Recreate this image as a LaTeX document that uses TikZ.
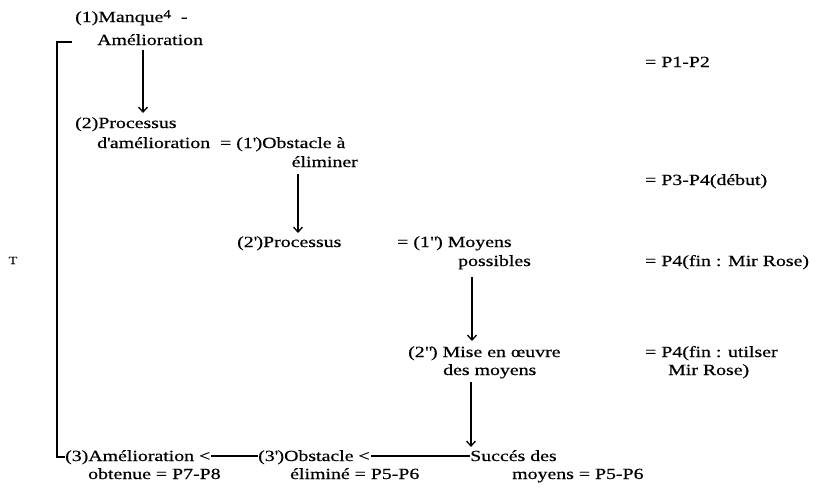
\documentclass[tikz,border=0pt]{standalone}
\usepackage{fontspec}
\setmainfont[FakeStretch=1.28,FakeBold=0.5]{Liberation Serif}
\usetikzlibrary{arrows.meta}
\newcommand{\sq}{\textquotesingle}
\newcommand{\dq}{\textquotedbl}
\begin{document}
\begin{tikzpicture}[x=1pt,y=-1pt,
  txt/.style={anchor=base west,inner sep=0pt,font=\fontsize{15.5}{18}\selectfont},
  txtr/.style={anchor=base east,inner sep=0pt,font=\fontsize{15.5}{18}\selectfont},
  arr/.style={line width=1.3pt,-{Straight Barb[length=5pt,width=9pt,line width=1.3pt]}},
  ln/.style={line width=1.2pt}]
\useasboundingbox (0,0) rectangle (821,488);
% left column
\node[txt] (m1) at (75,22) {(1)Manque\raisebox{4pt}{\fontsize{12}{12}\selectfont 4}\ \ -};
\node[txt] (m2) at (97,45) {Amélioration};
\node[txt] (p2a) at (75,128) {(2)Processus};
\node[txt] (p2b) at (97,148) {d\sq amélioration \ = (1\sq)Obstacle à};
\node[txtr] (elim) at (358,167) {éliminer};
\node[txt] (p2p) at (237,247) {(2\sq)Processus};
\node[txt] (moy) at (397,247) {= (1\dq) Moyens};
\node[txt] (poss) at (458,266) {possibles};
\node[txt] (mise) at (408,357) {(2\dq) Mise en œuvre};
\node[txt] (desm) at (443,375) {des moyens};
% bottom
\node[txt] (am3) at (65,461) {(3)Amélioration <};
\node[txt] (ob3) at (258,461) {(3\sq)Obstacle <};
\node[txt] (suc) at (470,461) {Succés des};
\node[txt] (ob3b) at (88,479) {obtenue = P7-P8};
\node[txt] (el3b) at (290,479) {éliminé = P5-P6};
\node[txt] (moyb) at (512,479) {moyens = P5-P6};
% right column
\node[txt] (r1) at (645,67) {= P1-P2};
\node[txt] (r2) at (645,185) {= P3-P4(début)};
\node[txt] (r3) at (645,266) {= P4(fin : Mir Rose)};
\node[txt] (r4) at (645,357) {= P4(fin : utilser};
\node[txt] (r5) at (668,375) {Mir Rose)};
\node[anchor=base,inner sep=0pt,font=\fontsize{11}{12}\selectfont] (T) at (13,264) {T};
% bracket
\coordinate (bt) at (57,42);
\coordinate (bb) at (57,457);
\draw[ln] (72,42) -- (bt) -- (bb) -- (am3.west |- bb);
% arrows
\draw[arr] (143,50) -- (143,113);
\draw[arr] (298,174) -- (298,233);
\draw[arr] (472,277) -- (472,341);
\draw[arr] (471,382) -- (471,447);
% bottom connectors
\draw[ln] ([xshift=1pt]am3.east |- 0,456) -- (ob3.west |- 0,456);
\draw[ln] ([xshift=1pt]ob3.east |- 0,456) -- (suc.west |- 0,456);
\end{tikzpicture}
\end{document}
